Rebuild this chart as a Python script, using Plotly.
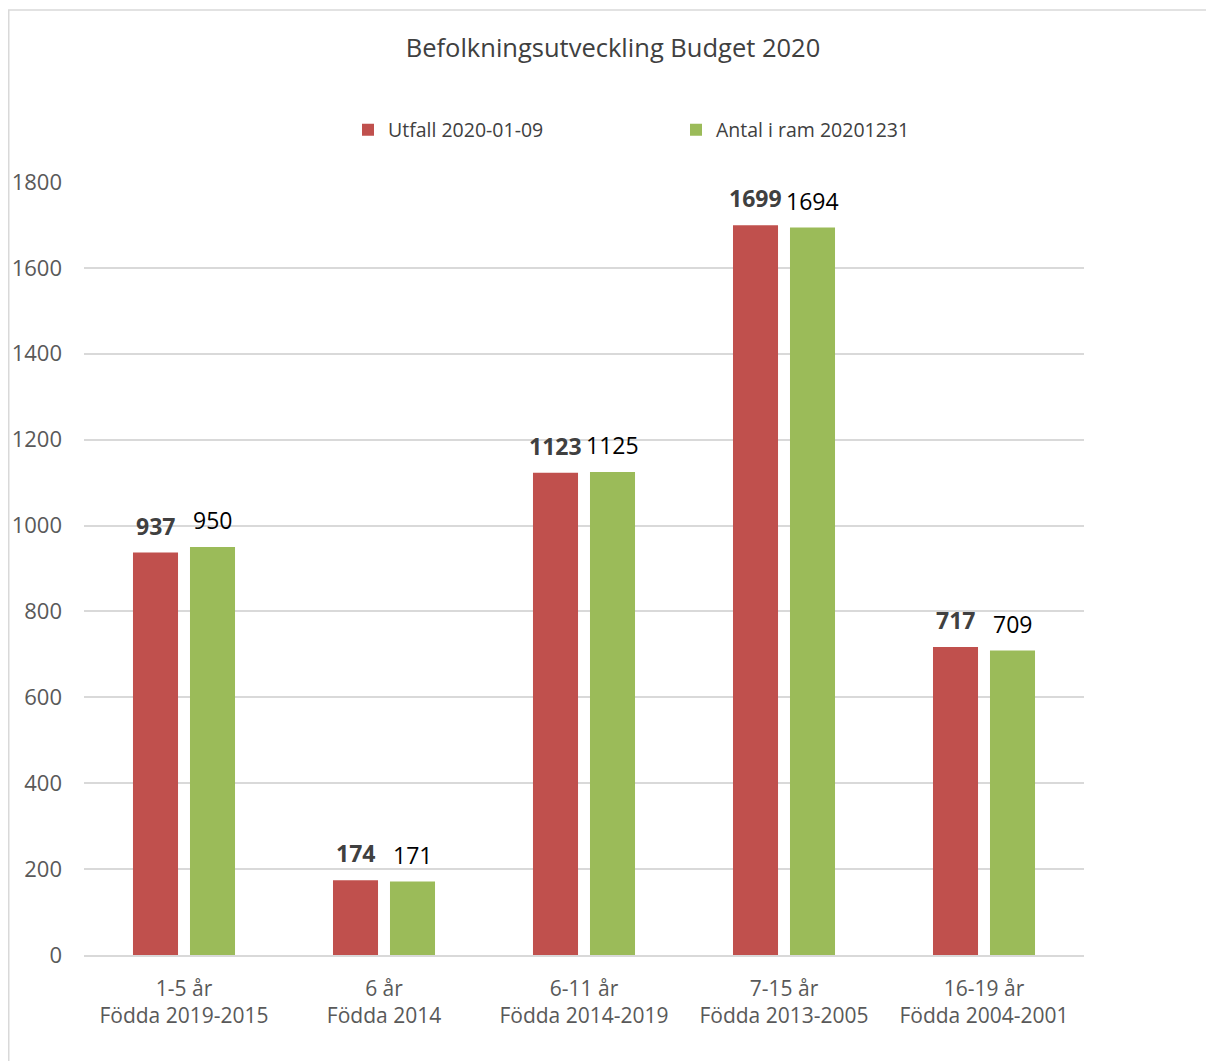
import plotly.graph_objects as go

categories = ["1-5 år<br>Födda 2019-2015", "6 år<br>Födda 2014", "6-11 år<br>Födda 2014-2019",
              "7-15 år<br>Födda 2013-2005", "16-19 år<br>Födda 2004-2001"]
utfall = [937, 174, 1123, 1699, 717]
antal = [950, 171, 1125, 1694, 709]
series_names = ["Utfall 2020-01-09", "Antal i ram 20201231"]
y_ticks = [0, 200, 400, 600, 800, 1000, 1200, 1400, 1600, 1800]

FONT = "Open Sans"
OFF = 8  # page body margin
W, H = 1214 - OFF, 1061 - OFF

def px(v):
    return v - OFF

L, R, T, B = px(84), px(1084), px(182), px(955)

fig = go.Figure()
fig.add_trace(go.Bar(
    x=categories, y=utfall, name=series_names[0],
    marker=dict(color="#c0504d", line=dict(width=0)),
))
fig.add_trace(go.Bar(
    x=categories, y=antal, name=series_names[1],
    marker=dict(color="#9bbb59", line=dict(width=0)),
))

# data labels
for c, v in zip(categories, utfall):
    fig.add_annotation(x=c, y=v, xref="x", yref="y", text=str(v), showarrow=False,
                       xshift=-28.5, yshift=27, yanchor="middle",
                       font=dict(family=FONT, size=23, color="#404040", weight="bold"))
for c, v in zip(categories, antal):
    fig.add_annotation(x=c, y=v, xref="x", yref="y", text=str(v), showarrow=False,
                       xshift=28.5, yshift=27, yanchor="middle",
                       font=dict(family=FONT, size=23, color="#000000"))

fig.update_layout(
    width=W, height=H,
    margin=dict(l=L, r=W - R, t=T, b=H - B, pad=0),
    paper_bgcolor="white", plot_bgcolor="white",
    barmode="group", bargap=0.43, bargroupgap=0.21,
    font=dict(family=FONT, color="#595959"),
    title=dict(text="Befolkningsutveckling Budget 2020", x=px(613) / W, xanchor="center",
               y=1 - px(48) / H, yanchor="middle", yref="container",
               font=dict(family=FONT, size=25.5, color="#404040")),
    legend=dict(orientation="h", x=(px(348) - L) / (R - L), xanchor="left",
                y=1 + (T - px(130)) / (B - T), yanchor="middle",
                font=dict(family=FONT, size=19.5, color="#404040"),
                entrywidth=283, entrywidthmode="pixels", itemwidth=30,
                traceorder="normal"),
    yaxis=dict(range=[0, 1800], tickvals=y_ticks, showgrid=True, gridcolor="#d9d9d9",
               gridwidth=1.5, zeroline=False, showline=False, ticks="", automargin=False,
               tickfont=dict(family=FONT, size=22, color="#595959"), ticklabelstandoff=21),
    xaxis=dict(showline=True, linecolor="#d9d9d9", linewidth=1.5, ticks="", automargin=False,
               tickfont=dict(family=FONT, size=21, color="#595959"), ticklabelstandoff=14),
    showlegend=True,
)
# outer chart border (cropped at right/bottom)
fig.add_shape(type="rect", xref="paper", yref="paper",
              x0=(px(8) + 0.75 - L) / (R - L), x1=(1300 - L) / (R - L),
              y0=-(1200 - B) / (B - T), y1=1 + (T - px(10)) / (B - T),
              line=dict(color="#d9d9d9", width=1.5), fillcolor="rgba(0,0,0,0)", layer="below")

fig.write_html("out.html")
